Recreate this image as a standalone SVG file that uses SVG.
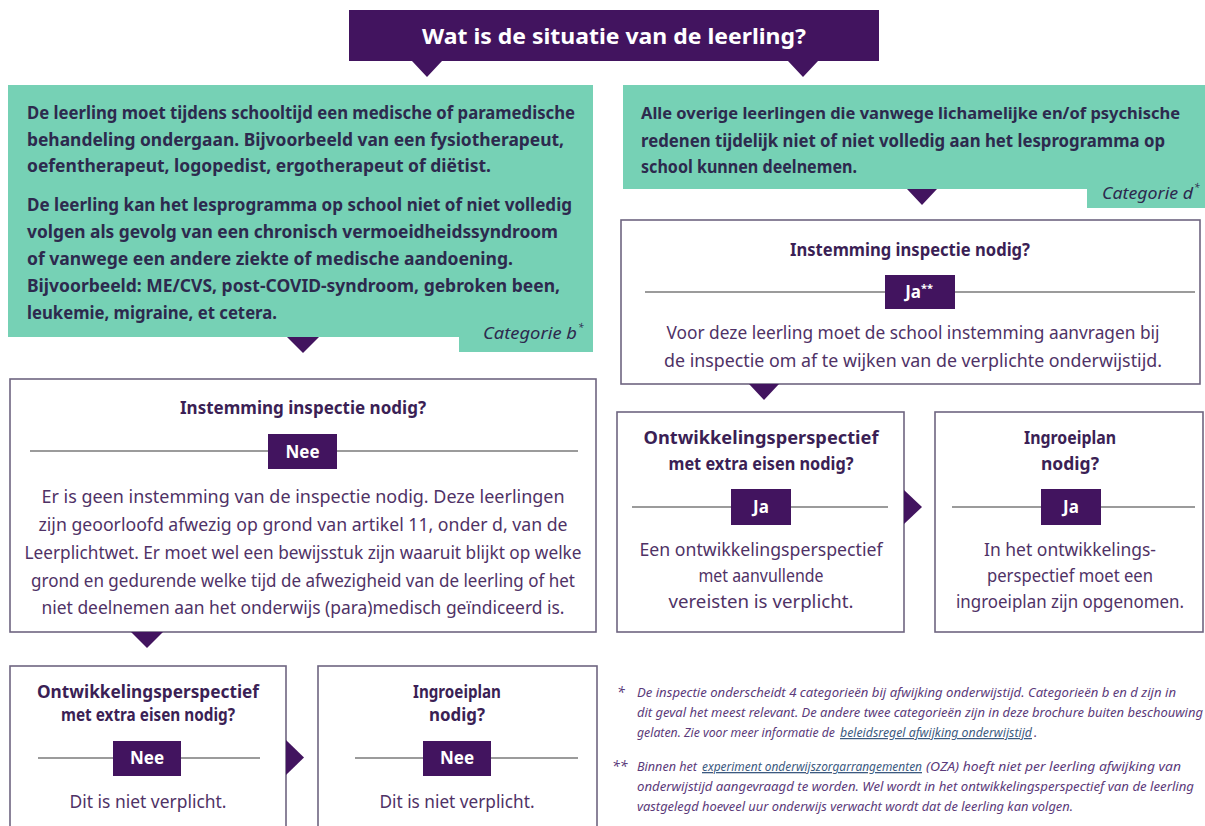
<svg xmlns="http://www.w3.org/2000/svg" width="1205" height="826" viewBox="0 0 1205 826">
<style>
  .teal{fill:#76d1b5}
  .dark{fill:#42145f}
  .box{fill:#ffffff;stroke:#6e6580;stroke-width:1.6}
  .rule{stroke:#7a7a7a;stroke-width:1.3}
  .tt{font-family:"Noto Sans","Open Sans",sans-serif;font-weight:700;font-size:17.5px;fill:#2d2a4e}
  .cat{font-family:"Noto Sans","Open Sans",sans-serif;font-style:italic;font-size:17px;fill:#2d2a4e}
  .hd{font-family:"Noto Sans","Open Sans",sans-serif;font-weight:700;font-size:17px;fill:#3b1f55;text-anchor:middle}
  .bd{font-family:"Noto Sans","Open Sans",sans-serif;font-size:18px;fill:#4f3266;text-anchor:middle}
  .lab{font-family:"Noto Sans","Open Sans",sans-serif;font-weight:700;font-size:17px;fill:#ffffff;text-anchor:middle}
  .title{font-family:"Noto Sans","Open Sans",sans-serif;font-weight:700;font-size:22px;fill:#ffffff;text-anchor:middle}
  .fn{font-family:"Noto Sans","Open Sans",sans-serif;font-style:italic;font-size:13px;fill:#5b3a7a}
  .lnk{fill:#3c5a80;text-decoration:underline}
</style>

<g id="title">
  <rect class="dark" x="349" y="10" width="530" height="51"/>
  <text class="title" x="614" y="44" textLength="384" lengthAdjust="spacingAndGlyphs">Wat is de situatie van de leerling?</text>
</g>

<g id="cat-b">
  <rect class="teal" x="8" y="85" width="585" height="252"/>
  <rect class="teal" x="459" y="336" width="134" height="16"/>
  <text class="tt" x="27" y="119" textLength="548" lengthAdjust="spacingAndGlyphs">De leerling moet tijdens schooltijd een medische of paramedische</text>
  <text class="tt" x="27" y="146" textLength="537" lengthAdjust="spacingAndGlyphs">behandeling ondergaan. Bijvoorbeeld van een fysiotherapeut,</text>
  <text class="tt" x="27" y="172" textLength="464" lengthAdjust="spacingAndGlyphs">oefentherapeut, logopedist, ergotherapeut of diëtist.</text>
  <text class="tt" x="27" y="211" textLength="545" lengthAdjust="spacingAndGlyphs">De leerling kan het lesprogramma op school niet of niet volledig</text>
  <text class="tt" x="27" y="238" textLength="531" lengthAdjust="spacingAndGlyphs">volgen als gevolg van een chronisch vermoeidheidssyndroom</text>
  <text class="tt" x="27" y="265" textLength="486" lengthAdjust="spacingAndGlyphs">of vanwege een andere ziekte of medische aandoening.</text>
  <text class="tt" x="27" y="292" textLength="533" lengthAdjust="spacingAndGlyphs">Bijvoorbeeld: ME/CVS, post-COVID-syndroom, gebroken been,</text>
  <text class="tt" x="27" y="319" textLength="250" lengthAdjust="spacingAndGlyphs">leukemie, migraine, et cetera.</text>
  <text class="cat" x="577" y="339" text-anchor="end" textLength="94" lengthAdjust="spacingAndGlyphs">Categorie b</text>
  <text class="cat" x="578" y="331" style="font-size:10px">*</text>
</g>

<g id="cat-d">
  <rect class="teal" x="623" y="85" width="582" height="104"/>
  <rect class="teal" x="1087" y="188" width="118" height="20"/>
  <text class="tt" x="641" y="119" style="font-size:16.8px" textLength="539" lengthAdjust="spacingAndGlyphs">Alle overige leerlingen die vanwege lichamelijke en/of psychische</text>
  <text class="tt" x="641" y="147" style="font-size:17.2px" textLength="524" lengthAdjust="spacingAndGlyphs">redenen tijdelijk niet of niet volledig aan het lesprogramma op</text>
  <text class="tt" x="641" y="173" textLength="216" lengthAdjust="spacingAndGlyphs">school kunnen deelnemen.</text>
  <text class="cat" x="1193" y="199" text-anchor="end" textLength="91" lengthAdjust="spacingAndGlyphs">Categorie d</text>
  <text class="cat" x="1194" y="191" style="font-size:10px">*</text>
</g>

<g id="nee-instemming">
  <rect class="box" x="10" y="379" width="586" height="253"/>
  <text class="hd" x="303" y="414" textLength="246" lengthAdjust="spacingAndGlyphs">Instemming inspectie nodig?</text>
  <line class="rule" x1="30" y1="451" x2="578" y2="451"/>
  <rect class="dark" x="268" y="434" width="69" height="35"/>
  <text class="lab" x="302.5" y="458">Nee</text>
  <text class="bd" x="303" y="503" textLength="523" lengthAdjust="spacingAndGlyphs">Er is geen instemming van de inspectie nodig. Deze leerlingen</text>
  <text class="bd" x="303" y="531" textLength="529" lengthAdjust="spacingAndGlyphs">zijn geoorloofd afwezig op grond van artikel 11, onder d, van de</text>
  <text class="bd" x="303" y="559" textLength="557" lengthAdjust="spacingAndGlyphs">Leerplichtwet. Er moet wel een bewijsstuk zijn waaruit blijkt op welke</text>
  <text class="bd" x="303" y="587" textLength="544" lengthAdjust="spacingAndGlyphs">grond en gedurende welke tijd de afwezigheid van de leerling of het</text>
  <text class="bd" x="303" y="614" textLength="523" lengthAdjust="spacingAndGlyphs">niet deelnemen aan het onderwijs (para)medisch geïndiceerd is.</text>
</g>

<g id="ja-instemming">
  <rect class="box" x="621" y="220" width="579" height="164"/>
  <text class="hd" x="910" y="256" textLength="240" lengthAdjust="spacingAndGlyphs">Instemming inspectie nodig?</text>
  <line class="rule" x1="645" y1="292" x2="1195" y2="292"/>
  <rect class="dark" x="885" y="275" width="70" height="34"/>
  <text class="lab" x="919" y="298">Ja<tspan font-size="11" dy="-6">**</tspan></text>
  <text class="bd" x="913" y="339" textLength="493" lengthAdjust="spacingAndGlyphs">Voor deze leerling moet de school instemming aanvragen bij</text>
  <text class="bd" x="913" y="367" textLength="498" lengthAdjust="spacingAndGlyphs">de inspectie om af te wijken van de verplichte onderwijstijd.</text>
</g>

<g id="opp-ja">
  <rect class="box" x="617" y="412" width="287" height="220"/>
  <text class="hd" x="761" y="444" textLength="235" lengthAdjust="spacingAndGlyphs">Ontwikkelingsperspectief</text>
  <text class="hd" x="761" y="470" textLength="185" lengthAdjust="spacingAndGlyphs">met extra eisen nodig?</text>
  <line class="rule" x1="632" y1="507" x2="888" y2="507"/>
  <rect class="dark" x="731" y="489" width="60" height="36"/>
  <text class="lab" x="761" y="513">Ja</text>
  <text class="bd" x="761" y="556" textLength="243" lengthAdjust="spacingAndGlyphs">Een ontwikkelingsperspectief</text>
  <text class="bd" x="761" y="582" textLength="125" lengthAdjust="spacingAndGlyphs">met aanvullende</text>
  <text class="bd" x="761" y="608" textLength="185" lengthAdjust="spacingAndGlyphs">vereisten is verplicht.</text>
</g>

<g id="ingroei-ja">
  <rect class="box" x="935" y="412" width="268" height="220"/>
  <text class="hd" x="1070" y="444" textLength="92" lengthAdjust="spacingAndGlyphs">Ingroeiplan</text>
  <text class="hd" x="1070" y="470" textLength="58" lengthAdjust="spacingAndGlyphs">nodig?</text>
  <line class="rule" x1="952" y1="507" x2="1195" y2="507"/>
  <rect class="dark" x="1041" y="489" width="60" height="36"/>
  <text class="lab" x="1071" y="513">Ja</text>
  <text class="bd" x="1070" y="556" textLength="172" lengthAdjust="spacingAndGlyphs">In het ontwikkelings-</text>
  <text class="bd" x="1070" y="582" textLength="166" lengthAdjust="spacingAndGlyphs">perspectief moet een</text>
  <text class="bd" x="1070" y="608" textLength="228" lengthAdjust="spacingAndGlyphs">ingroeiplan zijn opgenomen.</text>
</g>

<g id="opp-nee">
  <rect class="box" x="10" y="666" width="276" height="170"/>
  <text class="hd" x="148" y="698" textLength="222" lengthAdjust="spacingAndGlyphs">Ontwikkelingsperspectief</text>
  <text class="hd" x="148" y="721" textLength="174" lengthAdjust="spacingAndGlyphs">met extra eisen nodig?</text>
  <line class="rule" x1="38" y1="758" x2="260" y2="758"/>
  <rect class="dark" x="113" y="741" width="68" height="35"/>
  <text class="lab" x="147" y="764">Nee</text>
  <text class="bd" x="148" y="808" textLength="157" lengthAdjust="spacingAndGlyphs">Dit is niet verplicht.</text>
</g>

<g id="ingroei-nee">
  <rect class="box" x="318" y="666" width="279" height="170"/>
  <text class="hd" x="457" y="698" textLength="88" lengthAdjust="spacingAndGlyphs">Ingroeiplan</text>
  <text class="hd" x="457" y="721" textLength="56" lengthAdjust="spacingAndGlyphs">nodig?</text>
  <line class="rule" x1="355" y1="758" x2="578" y2="758"/>
  <rect class="dark" x="423" y="741" width="68" height="35"/>
  <text class="lab" x="457" y="764">Nee</text>
  <text class="bd" x="457" y="808" textLength="155" lengthAdjust="spacingAndGlyphs">Dit is niet verplicht.</text>
</g>

<g id="connectors" class="dark">
  <polygon points="412,61 442,61 427,77"/>
  <polygon points="788,61 818,61 803,77"/>
  <polygon points="287,337 319,337 303,353"/>
  <polygon points="907,189 937,189 922,205"/>
  <polygon points="749,384 779,384 764,400"/>
  <polygon points="131,632 163,632 147,648"/>
  <polygon points="904,490 922,507 904,524"/>
  <polygon points="286,740 304,757.5 286,775"/>
</g>

<g id="footnotes">
  <text class="fn" x="617" y="697" style="font-size:14px">*</text>
  <text class="fn" x="1176" y="697" text-anchor="end" textLength="539" lengthAdjust="spacingAndGlyphs">De inspectie onderscheidt 4 categorieën bij afwijking onderwijstijd. Categorieën b en d zijn in</text>
  <text class="fn" x="1203" y="717" text-anchor="end" textLength="566" lengthAdjust="spacingAndGlyphs">dit geval het meest relevant. De andere twee categorieën zijn in deze brochure buiten beschouwing</text>
  <text class="fn" x="637" y="737" textLength="198" lengthAdjust="spacingAndGlyphs">gelaten. Zie voor meer informatie de</text>
  <text class="fn lnk" x="840" y="737" style="font-size:12.3px" textLength="192" lengthAdjust="spacingAndGlyphs">beleidsregel afwijking onderwijstijd</text>
  <text class="fn" x="1034" y="737">.</text>
  <text class="fn" x="612" y="771" style="font-size:14px">**</text>
  <text class="fn" x="637" y="771" textLength="60" lengthAdjust="spacingAndGlyphs">Binnen het</text>
  <text class="fn lnk" x="702" y="771" textLength="220" lengthAdjust="spacingAndGlyphs">experiment onderwijszorgarrangementen</text>
  <text class="fn" x="1181" y="771" text-anchor="end" textLength="255" lengthAdjust="spacingAndGlyphs">(OZA) hoeft niet per leerling afwijking van</text>
  <text class="fn" x="1194" y="791" text-anchor="end" textLength="557" lengthAdjust="spacingAndGlyphs">onderwijstijd aangevraagd te worden. Wel wordt in het ontwikkelingsperspectief van de leerling</text>
  <text class="fn" x="637" y="811" textLength="436" lengthAdjust="spacingAndGlyphs">vastgelegd hoeveel uur onderwijs verwacht wordt dat de leerling kan volgen.</text>
</g>
</svg>
